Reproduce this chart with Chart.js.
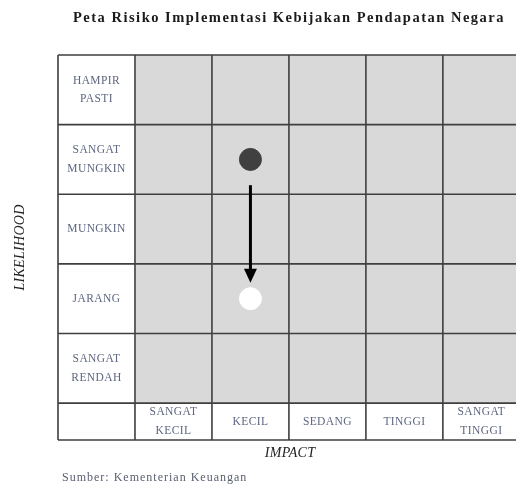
<!DOCTYPE html>
<html>
<head>
<meta charset="utf-8">
<script src="https://cdn.jsdelivr.net/npm/chart.js@4.4.0/dist/chart.umd.min.js"></script>
<style>
  html, body { margin: 0; padding: 0; background: #fff; overflow: hidden; }
  canvas { display: block; }
</style>
</head>
<body>
<canvas id="riskMap" width="516" height="484"></canvas>
<script>
// likelihood levels, bottom to top
const likelihoodLabels = [['SANGAT', 'RENDAH'], ['JARANG'], ['MUNGKIN'], ['SANGAT', 'MUNGKIN'], ['HAMPIR', 'PASTI']];
// impact levels, left to right
const impactLabels = [['SANGAT', 'KECIL'], ['KECIL'], ['SEDANG'], ['TINGGI'], ['SANGAT', 'TINGGI']];

// risk position before and after mitigation (index into the label arrays)
const riskBefore = { impact: 1, likelihood: 3 };
const riskAfter = { impact: 1, likelihood: 1 };

// arrow between the two positions (in likelihood units)
const arrowStart = 3.13;
const arrowEnd = 1.73;

const titleText = 'Peta Risiko Implementasi Kebijakan Pendapatan Negara';
const sourceText = 'Sumber: Kementerian Keuangan';

const LABEL_ROW = 0.53; // height of impact label row, in row units
const serif = '"Liberation Serif", "DejaVu Serif", serif';
const labelColor = '#5d6680';

function toPoint(r) {
    return { x: r.impact + 1.5, y: r.likelihood + 0.5 };
}

const riskGrid = {
    id: 'riskGrid',
    beforeDatasetsDraw(chart) {
        const { ctx, scales: { x, y } } = chart;
        const nCols = impactLabels.length + 1;
        const nRows = likelihoodLabels.length;
        ctx.save();

        // cells
        for (let c = 0; c < nCols; c++) {
            for (let r = -1; r < nRows; r++) {
                const x0 = x.getPixelForValue(c), x1 = x.getPixelForValue(c + 1);
                const y0 = y.getPixelForValue(r === -1 ? 0 : r + 1);
                const y1 = y.getPixelForValue(r === -1 ? -LABEL_ROW : r);
                ctx.fillStyle = (c === 0 || r === -1) ? '#ffffff' : '#d9d9d9';
                ctx.fillRect(x0, y0, x1 - x0, y1 - y0);
            }
        }

        // grid lines
        ctx.strokeStyle = '#3f3f3f';
        ctx.lineWidth = 1.6;
        ctx.beginPath();
        for (let c = 0; c <= nCols; c++) {
            const px = x.getPixelForValue(c);
            ctx.moveTo(px, y.getPixelForValue(nRows));
            ctx.lineTo(px, y.getPixelForValue(-LABEL_ROW));
        }
        for (let r = -1; r <= nRows; r++) {
            const py = y.getPixelForValue(r === -1 ? -LABEL_ROW : r);
            ctx.moveTo(x.getPixelForValue(0), py);
            ctx.lineTo(x.getPixelForValue(nCols), py);
        }
        ctx.stroke();

        // cell labels
        ctx.fillStyle = labelColor;
        ctx.font = '11.5px ' + serif;
        ctx.letterSpacing = '0.4px';
        ctx.textAlign = 'center';
        ctx.textBaseline = 'middle';
        const lh = 18.5;
        likelihoodLabels.forEach((lines, i) => {
            const cx = x.getPixelForValue(0.5);
            const cy = y.getPixelForValue(i + 0.5);
            lines.forEach((t, k) => {
                ctx.fillText(t, cx, cy + (k - (lines.length - 1) / 2) * lh);
            });
        });
        impactLabels.forEach((lines, i) => {
            const cx = x.getPixelForValue(i + 1.5);
            const cy = y.getPixelForValue(-LABEL_ROW / 2);
            lines.forEach((t, k) => {
                ctx.fillText(t, cx, cy + (k - (lines.length - 1) / 2) * lh);
            });
        });
        ctx.letterSpacing = '0px';

        // arrow
        const ax = x.getPixelForValue(riskBefore.impact + 1.5);
        const ys = y.getPixelForValue(arrowStart);
        const ye = y.getPixelForValue(arrowEnd);
        ctx.strokeStyle = '#000';
        ctx.fillStyle = '#000';
        ctx.lineWidth = 3;
        ctx.beginPath();
        ctx.moveTo(ax, ys);
        ctx.lineTo(ax, ye - 12);
        ctx.stroke();
        ctx.beginPath();
        ctx.moveTo(ax - 6.5, ye - 14);
        ctx.lineTo(ax + 6.5, ye - 14);
        ctx.lineTo(ax, ye);
        ctx.closePath();
        ctx.fill();
        ctx.restore();
    },
    afterDraw(chart) {
        const { ctx, chartArea: a } = chart;
        ctx.save();
        ctx.textAlign = 'center';
        ctx.textBaseline = 'middle';

        ctx.fillStyle = '#1a1a1a';
        ctx.font = 'bold 14.5px ' + serif;
        ctx.letterSpacing = '1.5px';
        ctx.fillText(titleText, 289, 18);

        ctx.font = 'italic 14px ' + serif;
        ctx.letterSpacing = '0.3px';
        ctx.fillStyle = '#222';
        ctx.fillText('IMPACT', 290, 453);

        ctx.save();
        ctx.translate(20, (a.top + a.bottom) / 2);
        ctx.rotate(-Math.PI / 2);
        ctx.fillText('LIKELIHOOD', 0, 0);
        ctx.restore();

        ctx.textAlign = 'left';
        ctx.font = '12px ' + serif;
        ctx.letterSpacing = '1px';
        ctx.fillStyle = '#5a6070';
        ctx.fillText(sourceText, 62, 478);
        ctx.restore();
    }
};

new Chart(document.getElementById('riskMap'), {
    type: 'scatter',
    data: {
        datasets: [
            {
                label: 'Sebelum',
                data: [toPoint(riskBefore)],
                backgroundColor: '#404040',
                borderColor: '#404040',
                pointRadius: 11,
                pointHoverRadius: 11
            },
            {
                label: 'Sesudah',
                data: [toPoint(riskAfter)],
                backgroundColor: '#ffffff',
                borderColor: '#ffffff',
                pointRadius: 11,
                pointHoverRadius: 11
            }
        ]
    },
    options: {
        responsive: false,
        animation: false,
        layout: { autoPadding: false, padding: { left: 58, right: 0, top: 55, bottom: 44 } },
        plugins: {
            legend: { display: false },
            tooltip: { enabled: false }
        },
        scales: {
            // last column runs past the right edge of the picture
            x: { type: 'linear', min: 0, max: 5.95, display: false },
            y: { type: 'linear', min: -LABEL_ROW, max: likelihoodLabels.length, display: false }
        }
    },
    plugins: [riskGrid]
});
</script>
</body>
</html>
